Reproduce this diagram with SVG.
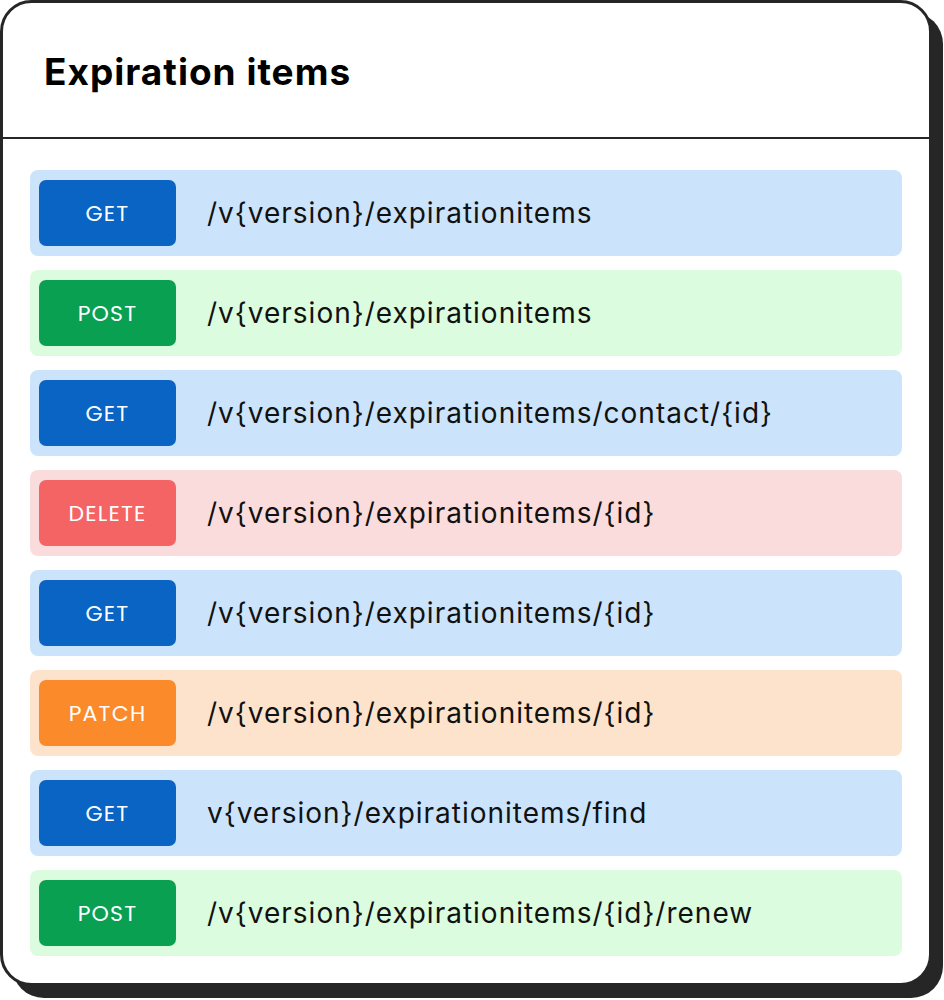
<svg xmlns="http://www.w3.org/2000/svg" width="944" height="1000" viewBox="0 0 944 1000">
<style>
.row{stroke:none}
.badge-t{font-family:Poppins,"Inter","Liberation Sans",sans-serif;font-size:22px;letter-spacing:1.2px;fill:#fff;text-anchor:middle}
.path-t{font-family:"Inter","Liberation Sans",sans-serif;font-size:28px;letter-spacing:1px;fill:#111}
</style>
<rect x="12" y="12" width="931" height="986" rx="32" fill="#262626"/>
<rect x="1.5" y="1.5" width="929" height="983" rx="30" fill="#fff" stroke="#262626" stroke-width="3"/>
<line x1="1.5" y1="138" x2="930.5" y2="138" stroke="#262626" stroke-width="2"/>
<text x="44" y="85" font-family="Inter,'Liberation Sans',sans-serif" font-weight="700" font-size="37" letter-spacing="1" fill="#000">Expiration items</text>
<g id="r1"><rect x="30" y="170" width="872" height="86" rx="8" fill="#cbe4fb"/><rect x="39" y="180" width="137" height="66" rx="7" fill="#0a64c4"/><text class="badge-t" x="107.5" y="221">GET</text><text class="path-t" x="207" y="223">/v{version}/expirationitems</text></g>
<g id="r2"><rect x="30" y="270" width="872" height="86" rx="8" fill="#dcfcdf"/><rect x="39" y="280" width="137" height="66" rx="7" fill="#0aa052"/><text class="badge-t" x="107.5" y="321">POST</text><text class="path-t" x="207" y="323">/v{version}/expirationitems</text></g>
<g id="r3"><rect x="30" y="370" width="872" height="86" rx="8" fill="#cbe4fb"/><rect x="39" y="380" width="137" height="66" rx="7" fill="#0a64c4"/><text class="badge-t" x="107.5" y="421">GET</text><text class="path-t" x="207" y="423">/v{version}/expirationitems/contact/{id}</text></g>
<g id="r4"><rect x="30" y="470" width="872" height="86" rx="8" fill="#fbdcdc"/><rect x="39" y="480" width="137" height="66" rx="7" fill="#f56464"/><text class="badge-t" x="107.5" y="521">DELETE</text><text class="path-t" x="207" y="523">/v{version}/expirationitems/{id}</text></g>
<g id="r5"><rect x="30" y="570" width="872" height="86" rx="8" fill="#cbe4fb"/><rect x="39" y="580" width="137" height="66" rx="7" fill="#0a64c4"/><text class="badge-t" x="107.5" y="621">GET</text><text class="path-t" x="207" y="623">/v{version}/expirationitems/{id}</text></g>
<g id="r6"><rect x="30" y="670" width="872" height="86" rx="8" fill="#fde3cb"/><rect x="39" y="680" width="137" height="66" rx="7" fill="#fa8a2a"/><text class="badge-t" x="107.5" y="721">PATCH</text><text class="path-t" x="207" y="723">/v{version}/expirationitems/{id}</text></g>
<g id="r7"><rect x="30" y="770" width="872" height="86" rx="8" fill="#cbe4fb"/><rect x="39" y="780" width="137" height="66" rx="7" fill="#0a64c4"/><text class="badge-t" x="107.5" y="821">GET</text><text class="path-t" x="207" y="823">v{version}/expirationitems/find</text></g>
<g id="r8"><rect x="30" y="870" width="872" height="86" rx="8" fill="#dcfcdf"/><rect x="39" y="880" width="137" height="66" rx="7" fill="#0aa052"/><text class="badge-t" x="107.5" y="921">POST</text><text class="path-t" x="207" y="923">/v{version}/expirationitems/{id}/renew</text></g>
<g id="connectors"/>
</svg>
